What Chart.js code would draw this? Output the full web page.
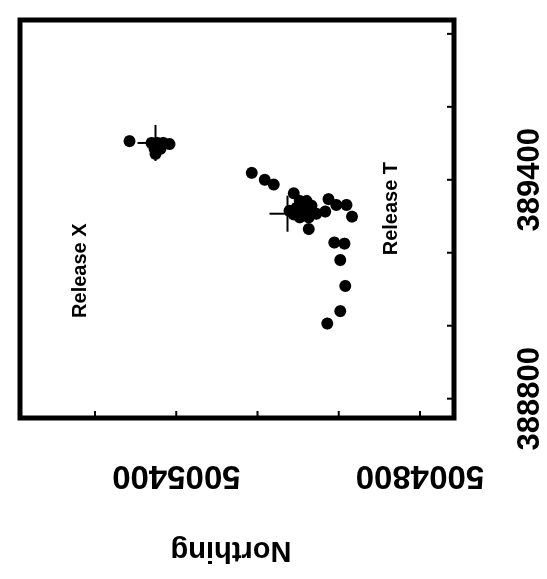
<!DOCTYPE html>
<html>
<head>
<meta charset="utf-8">
<title>Release traces</title>
<script src="https://cdn.jsdelivr.net/npm/chart.js@4.4.0/dist/chart.umd.min.js"></script>
<style>
  html, body { margin: 0; padding: 0; background: #fff; overflow: hidden; }
  /* the plot is laid out Easting-across, then turned a quarter turn for the page */
  #plot {
    position: absolute;
    left: 0;
    top: 0;
    width: 579px;
    height: 547px;
    transform-origin: 0 0;
    transform: translate(0, 579px) rotate(-90deg);
  }
</style>
</head>
<body>
<div id="plot"><canvas id="trace-chart" width="579" height="547"></canvas></div>
<script>
// recovered positions near release X
const xDotsEasting  = [389506, 389501, 389501, 389501, 389498, 389485, 389485, 389471];
const xDotsNorthing = [5005515, 5005461, 5005447, 5005432, 5005417, 5005454, 5005439, 5005451];

// recovered positions near release T
const tDotsEasting = [
    389419, 389400, 389387, 389363,
    389342, 389342, 389329, 389323, 389315, 389310, 389305, 389297, 389297, 389307, 389315,
    389347, 389331, 389331, 389313, 389299, 389265,
    389228, 389225, 389180, 389109, 389040, 389006
];
const tDotsNorthing = [
    5005214, 5005182, 5005160, 5005111,
    5005096, 5005079, 5005067, 5005104, 5005087, 5005062, 5005111, 5005096, 5005074, 5005055, 5005121,
    5005025, 5005006, 5004981, 5005033, 5004967, 5005074,
    5005011, 5004986, 5004996, 5004984, 5004996, 5005028
];

// release points (X, T)
const releaseEasting  = [389501, 389307];
const releaseNorthing = [5005451, 5005126];

// release name tags
const tagText     = ['Release X', 'Release T'];
const tagEasting  = [389151, 389321];
const tagNorthing = [5005635, 5004869];

// axes
const eastingRange  = [388747, 389838];
const northingRange = [5004716, 5005785];
const eastingTicks  = [388800, 389000, 389200, 389400, 389600, 389800];
const northingTicks = [5004800, 5005000, 5005200, 5005400, 5005600];
const eastingLabels  = [388800, 389400];
const northingLabels = [5004800, 5005400];
const northingTitle = 'Northing';

const toPoints = (xs, ys) => xs.map((x, i) => ({ x, y: ys[i] }));

const FONT = '"Liberation Sans", Arial, Helvetica, sans-serif';

// boxed frame with inward ticks, sideways labels and the release tags
const frameAndLabels = {
    id: 'frameAndLabels',
    afterDraw(chart) {
        const { ctx, chartArea: a, scales } = chart;
        const xs = scales.x;
        const ys = scales.y;
        ctx.save();
        ctx.strokeStyle = '#000';
        ctx.fillStyle = '#000';

        ctx.lineWidth = 5;
        ctx.strokeRect(a.left, a.top, a.right - a.left, a.bottom - a.top);

        ctx.lineWidth = 2;
        ctx.beginPath();
        eastingTicks.forEach(v => {
            const px = xs.getPixelForValue(v);
            ctx.moveTo(px, a.bottom);
            ctx.lineTo(px, a.bottom - 7);
        });
        northingTicks.forEach(v => {
            const py = ys.getPixelForValue(v);
            ctx.moveTo(a.left, py);
            ctx.lineTo(a.left + 7, py);
        });
        ctx.stroke();

        ctx.textAlign = 'center';
        ctx.textBaseline = 'middle';

        ctx.font = 'bold 31px ' + FONT;
        eastingLabels.forEach(v => {
            ctx.fillText(String(v), xs.getPixelForValue(v), a.bottom + 76);
        });

        ctx.font = 'bold 33px ' + FONT;
        northingLabels.forEach(v => {
            ctx.save();
            ctx.translate(a.left - 57, ys.getPixelForValue(v));
            ctx.rotate(-Math.PI / 2);
            ctx.fillText(String(v), 0, 0);
            ctx.restore();
        });

        ctx.font = 'bold 29px ' + FONT;
        ctx.save();
        ctx.translate(29, (a.top + a.bottom) / 2 - 6);
        ctx.rotate(-Math.PI / 2);
        ctx.fillText(northingTitle, 0, 0);
        ctx.restore();

        ctx.font = 'bold 20px ' + FONT;
        tagText.forEach((t, i) => {
            ctx.fillText(t, xs.getPixelForValue(tagEasting[i]), ys.getPixelForValue(tagNorthing[i]));
        });

        ctx.restore();
    }
};

new Chart(document.getElementById('trace-chart'), {
    type: 'scatter',
    data: {
        datasets: [
            {
                label: 'Release X',
                data: toPoints(xDotsEasting, xDotsNorthing),
                pointRadius: 6,
                backgroundColor: '#000',
                borderWidth: 0
            },
            {
                label: 'Release T',
                data: toPoints(tDotsEasting, tDotsNorthing),
                pointRadius: 6,
                backgroundColor: '#000',
                borderWidth: 0
            },
            {
                label: 'Release points',
                data: toPoints(releaseEasting, releaseNorthing),
                pointStyle: 'cross',
                pointRadius: 18,
                borderColor: '#000',
                borderWidth: 2
            }
        ]
    },
    options: {
        responsive: false,
        animation: false,
        devicePixelRatio: 1,
        layout: { padding: { left: 161, right: 6, top: 16, bottom: 93 } },
        plugins: {
            legend: { display: false },
            tooltip: { enabled: false }
        },
        scales: {
            x: { type: 'linear', display: false, min: eastingRange[0], max: eastingRange[1] },
            y: { type: 'linear', display: false, min: northingRange[0], max: northingRange[1] }
        }
    },
    plugins: [frameAndLabels]
});
</script>
</body>
</html>
